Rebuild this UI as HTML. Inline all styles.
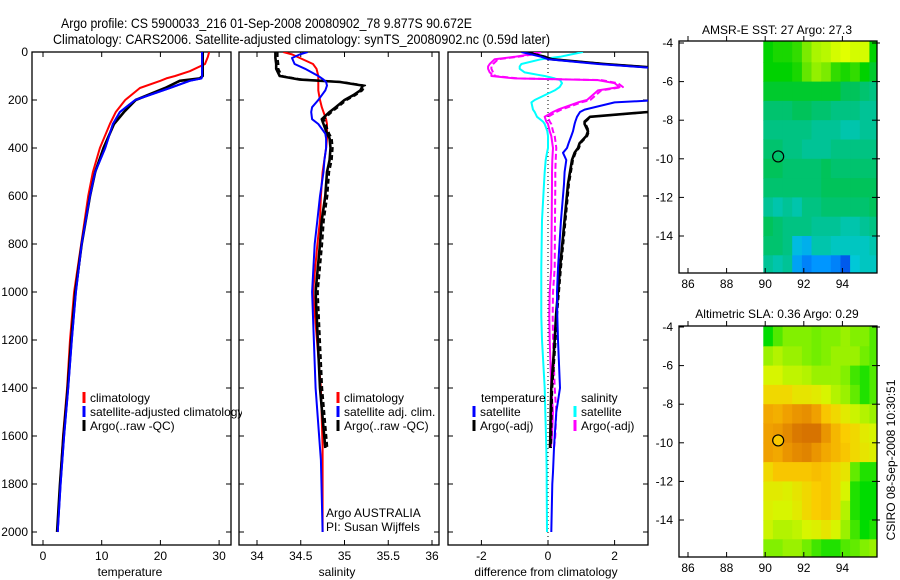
<!DOCTYPE html>
<html><head><meta charset="utf-8"><style>
html,body{margin:0;padding:0;background:#fff;}
svg{display:block;font-family:"Liberation Sans",sans-serif;}
</style></head><body>
<svg id="fig" width="900" height="580" viewBox="0 0 900 580" xmlns="http://www.w3.org/2000/svg">
<defs>
<clipPath id="c1"><rect x="32" y="52" width="199" height="493"/></clipPath>
<clipPath id="c2"><rect x="239" y="52" width="200" height="493"/></clipPath>
<clipPath id="c3"><rect x="448" y="52" width="200" height="493"/></clipPath>
<clipPath id="cm1"><rect x="679" y="41" width="198" height="232"/></clipPath>
<clipPath id="cm2"><rect x="679" y="326" width="198" height="231"/></clipPath>
<clipPath id="cleg"><rect x="32" y="380" width="210" height="60"/></clipPath>
</defs>
<text x="61" y="28" font-size="14" textLength="411" lengthAdjust="spacingAndGlyphs">Argo profile: CS 5900033_216 01-Sep-2008 20080902_78 9.877S 90.672E</text>
<text x="53" y="44" font-size="14" textLength="497" lengthAdjust="spacingAndGlyphs">Climatology: CARS2006. Satellite-adjusted climatology: synTS_20080902.nc (0.59d later)</text>
<g id="layer"></g>
<text x="130" y="576" font-size="12" text-anchor="middle">temperature</text>
<text x="337" y="576" font-size="12" text-anchor="middle">salinity</text>
<text x="546" y="576" font-size="12" text-anchor="middle">difference from climatology</text>
<text x="777" y="34" font-size="12" text-anchor="middle">AMSR-E SST: 27 Argo: 27.3</text>
<text x="777" y="318" font-size="12" text-anchor="middle">Altimetric SLA: 0.36 Argo: 0.29</text>
<text x="0" y="0" font-size="12" text-anchor="middle" transform="translate(895,460) rotate(-90)">CSIRO 08-Sep-2008 10:30:51</text>
<text x="326" y="517" font-size="12">Argo AUSTRALIA</text>
<text x="326" y="531" font-size="12">PI: Susan Wijffels</text>
</svg>
<script>
// ---------- data ----------
const depths = [0,20,50,80,100,110,120,150,200,250,300,400,500,600,800,1000,1200,1400,1600,1800,2000];
const tempClim = [28.3,28.1,27.6,25,22.5,21,20,16.5,14,12.4,11.4,9.7,8.5,7.7,6.5,5.3,4.6,4.1,3.4,2.9,2.5];
const tempSat = [27.1,27.1,27.1,27.1,27.1,27.0,25,21.6,15.7,13.1,11.9,10.6,8.9,8,6.6,5.6,4.9,4.3,3.6,3.0,2.5];
const tempArgo = [27.2,27.2,27.2,27.2,27.2,26.7,23.3,20.8,15.8,13.8,12.1,10.3,8.9,8,6.6,5.5,4.8,4.2,3.5,2.9,2.4];

const salDepths = [0,10,25,50,70,100,115,125,140,160,180,200,230,250,280,300,320,340,360,400,450,500,600,700,800,1000,1400,1650,1700,2000];
const salClim = [34.30,34.4,34.49,34.64,34.68,34.70,34.70,34.70,34.70,34.70,34.71,34.72,34.74,34.76,34.79,34.80,34.80,34.80,34.80,34.79,34.77,34.75,34.73,34.72,34.69,34.64,34.73,34.75,34.75,34.75];
const salSat = [34.58,34.49,34.40,34.43,34.55,34.70,34.76,34.79,34.80,34.78,34.74,34.70,34.63,34.62,34.63,34.70,34.74,34.78,34.79,34.79,34.77,34.76,34.72,34.69,34.66,34.63,34.67,34.72,34.73,34.75];
const salArgo = [34.21,34.21,34.21,34.22,34.22,34.26,34.49,34.95,35.21,35.18,35.10,35.0,34.90,34.83,34.74,34.76,34.78,34.80,34.83,34.84,34.83,34.80,34.78,34.74,34.72,34.67,34.72,34.78];

const diffDepths = [0,10,20,30,50,60,70,85,90,95,100,110,117,130,146,160,200,210,240,250,270,290,300,330,350,380,400,420,450,500,550,700,900,1000,1100,1200,1400,1500,1600,1650,1750,1800,2000];
const dTempSat = [-0.8,-0.5,-0.2,0,1.5,2.5,3.5,3.5,3.5,3.5,3.5,3.5,3.5,3.5,3.5,3.5,3.4,2.0,1.1,0.96,0.87,0.82,0.8,0.75,0.7,0.62,0.57,0.45,0.55,0.5,0.48,0.39,0.3,0.27,0.28,0.3,0.36,0.25,0.2,0.18,0.15,0.13,0.1];
const dTempArgo = [-0.7,-0.4,-0.1,0.1,1.7,2.7,3.6,3.6,3.6,3.6,3.6,3.6,3.6,3.6,3.6,3.6,3.6,3.6,3.5,3.0,1.26,1.1,1.1,1.2,1.15,0.95,0.9,0.8,0.72,0.66,0.6,0.5,0.36,0.3,0.24,0.2,0.1,0.08,0.07,0.06];
const dSalSat = [1.05,0.7,0.36,-0.2,-0.8,-0.85,-0.85,-0.7,-0.5,-0.3,-0.1,0.2,0.36,0.42,0.35,0.2,-0.4,-0.5,-0.45,-0.4,-0.33,-0.15,-0.1,-0.02,0,0,0,-0.03,-0.07,-0.1,-0.12,-0.18,-0.2,-0.2,-0.2,-0.18,-0.1,-0.08,-0.06,-0.05,-0.04,-0.04,-0.03];
const dSalArgo = [-0.3,-0.55,-1.0,-1.6,-1.75,-1.8,-1.8,-1.75,-1.7,-1.7,-1.7,-1.0,1.5,2.0,2.15,1.5,1.17,0.9,0.3,0.15,-0.1,-0.05,0,0.05,0.1,0.13,0.15,0.14,0.13,0.12,0.12,0.11,0.1,0.05,0.04,0.05,0.1,0.15,0.12,0.08];

const tempTicks = [0,10,20,30];
const salTicks = [34,34.5,35,35.5,36];
const salTickLabels = ["34","34.5","35","35.5","36"];
const diffTicks = [-2,0,2];
const depthTicks = [0,200,400,600,800,1000,1200,1400,1600,1800,2000];
const lonTicks = [86,88,90,92,94];
const latTicks = [-4,-6,-8,-10,-12,-14];

const gridLon0 = 89.9;
const gridLat0 = -4;
const sstGrid = [
[27.2,27.25,27.25,27.3,27.45,27.55,27.6,27.7,27.75,27.7,27.7,27.2],
[27.2,27.2,27.2,27.25,27.4,27.5,27.45,27.3,27.25,27.3,27.2,27.15],
[27.15,27.15,27.15,27.15,27.15,27.15,27.15,27.15,27.1,27.1,27.05,27.0],
[27.05,27.05,27.05,27.1,27.1,27.05,27.05,27.0,27.0,27.0,26.95,26.95],
[27.0,27.0,27.0,27.0,27.0,26.95,26.95,26.95,26.9,26.9,26.95,26.95],
[27.05,27.05,27.0,27.0,26.95,26.95,26.95,27.0,27.0,27.0,27.0,27.0],
[27.1,27.1,27.05,27.05,27.05,27.05,27.1,27.05,27.05,27.05,27.05,27.05],
[27.05,27.05,27.05,27.05,27.05,27.05,27.1,27.1,27.1,27.1,27.1,27.1],
[26.95,26.9,26.95,26.9,27.0,27.0,27.05,27.05,27.05,27.05,27.05,27.1],
[27.1,27.05,27.0,27.0,27.0,26.95,26.95,26.95,26.9,26.9,26.95,27.0],
[27.05,27.05,27.0,26.75,26.7,26.9,26.9,26.85,26.85,26.85,26.85,26.9],
[26.95,26.9,26.95,26.65,26.55,26.6,26.6,26.55,26.45,26.8,26.85,26.85]];
const slaGrid = [
[0.1,0.15,0.18,0.18,0.18,0.17,0.18,0.18,0.2,0.18,0.18,0.15],
[0.2,0.22,0.2,0.2,0.18,0.17,0.18,0.2,0.2,0.2,0.17,0.15],
[0.25,0.25,0.23,0.23,0.22,0.2,0.2,0.2,0.18,0.14,0.12,0.15],
[0.3,0.3,0.3,0.28,0.28,0.27,0.25,0.22,0.2,0.16,0.12,0.15],
[0.37,0.36,0.38,0.4,0.41,0.38,0.33,0.3,0.27,0.24,0.22,0.2],
[0.38,0.39,0.42,0.45,0.47,0.46,0.4,0.35,0.32,0.3,0.27,0.25],
[0.38,0.37,0.4,0.42,0.43,0.4,0.37,0.35,0.33,0.3,0.28,0.26],
[0.3,0.33,0.33,0.33,0.33,0.34,0.33,0.3,0.28,0.16,0.12,0.12],
[0.27,0.27,0.26,0.28,0.3,0.32,0.33,0.3,0.25,0.12,0.1,0.1],
[0.26,0.25,0.25,0.27,0.3,0.32,0.33,0.3,0.22,0.12,0.1,0.1],
[0.24,0.22,0.22,0.23,0.25,0.26,0.28,0.25,0.2,0.14,0.1,0.12],
[0.18,0.18,0.2,0.2,0.17,0.14,0.12,0.12,0.15,0.16,0.18,0.2]];
const floatLon = 90.672;
const floatLat = -9.877;

// ---------- scales ----------
const NS = "http://www.w3.org/2000/svg";
const layer = document.getElementById("layer");
function yD(d){ return 52 + d*0.24; }
function xT(t){ return 43 + t*5.87; }
function xS(s){ return 257 + (s-34)*87.5; }
function xDf(v){ return 548 + v*33.3; }
function xLon(l){ return 688 + (l-86)*19.3; }
function yLat1(l){ return 43 + (-4-l)*19.3; }
function yLat2(l){ return 327 + (-4-l)*19.3; }

function add(tag, attrs, parent){
  const el = document.createElementNS(NS, tag);
  for (const k in attrs) el.setAttribute(k, attrs[k]);
  (parent||layer).appendChild(el);
  return el;
}
function txt(x,y,s,anchor,name){
  const el = add("text",{x:x,y:y,"font-size":12,"text-anchor":anchor||"start"});
  el.textContent = s;
  
  
  return el;
}
function profile(xs, ds, xf, color, w, clip, name, dash){
  const n = Math.min(xs.length, ds.length);
  const pts = [];
  for (let i=0;i<n;i++) pts.push(xf(xs[i]).toFixed(1)+","+yD(ds[i]).toFixed(1));
  const el = add("polyline",{points:pts.join(" "),fill:"none",stroke:color,"stroke-width":w,"stroke-linejoin":"round","clip-path":"url(#"+clip+")"});
  if (dash) el.setAttribute("stroke-dasharray", dash);
  
  
  return el;
}
function lerp(stops, v){
  if (v<=stops[0][0]) return stops[0][1];
  for (let i=1;i<stops.length;i++){
    if (v<=stops[i][0]){
      const a=stops[i-1], b=stops[i], f=(v-a[0])/(b[0]-a[0]);
      return a[1].map((c,j)=>Math.round(c+(b[1][j]-c)*f));
    }
  }
  return stops[stops.length-1][1];
}
const sstStops = [[26.4,[0,70,230]],[26.6,[0,150,255]],[26.8,[0,200,215]],[26.95,[0,195,150]],[27.1,[0,195,90]],[27.2,[0,210,0]],[27.4,[100,230,0]],[27.55,[170,245,0]],[27.75,[225,255,0]]];
const slaStops = [[0.1,[0,220,0]],[0.18,[130,240,0]],[0.25,[215,245,0]],[0.32,[250,205,0]],[0.38,[240,160,0]],[0.46,[215,115,0]]];

// ---------- profile panels ----------
function panelBox(x,w,name){
  const el = add("rect",{x:x,y:52,width:w,height:493,fill:"none",stroke:"#000","stroke-width":1.3});
  
  
}
function depthTicksFor(x0,x1,labels){
  for (const d of depthTicks){
    const y = yD(d);
    const a = add("line",{x1:x0,y1:y,x2:x0+5,y2:y,stroke:"#000","stroke-width":1});
    
    
    const b = add("line",{x1:x1-5,y1:y,x2:x1,y2:y,stroke:"#000","stroke-width":1});
    
    
    if (labels) txt(28, y+4, String(d), "end", "depth-tick-label");
  }
}
function xTicks(vals, labels, xf, name){
  vals.forEach((v,i)=>{
    const x = xf(v);
    const a = add("line",{x1:x,y1:545,x2:x,y2:540,stroke:"#000","stroke-width":1});
    
    
    const b = add("line",{x1:x,y1:52,x2:x,y2:57,stroke:"#000","stroke-width":1});
    
    
    txt(x, 560, labels[i], "middle", name+"-tick-label");
  });
}
// panel 1
panelBox(32,199,"temperature-panel");
depthTicksFor(32,231,true);
xTicks(tempTicks, tempTicks.map(String), xT, "temperature-axis");
profile(tempClim, depths, xT, "#ff0000", 2, "c1", "temperature-climatology-line");
profile(tempSat, depths, xT, "#0000ff", 2, "c1", "temperature-satellite-line");
profile(tempArgo, depths, xT, "#000000", 2.6, "c1", "temperature-argo-line");
profile(tempSat, depths, xT, "#0000ff", 2, "c1", "temperature-satellite-line-top");
// panel 2
panelBox(239,200,"salinity-panel");
depthTicksFor(239,439,false);
xTicks(salTicks, salTickLabels, xS, "salinity-axis");
profile(salClim, salDepths, xS, "#ff0000", 2, "c2", "salinity-climatology-line");
profile(salArgo.map(v=>v+0.025), salDepths, xS, "#000000", 2, "c2", "salinity-argo-raw-line", "5,3");
profile(salArgo, salDepths, xS, "#000000", 2.6, "c2", "salinity-argo-line");
profile(salSat, salDepths, xS, "#0000ff", 2, "c2", "salinity-satellite-line");
// panel 3
panelBox(448,200,"difference-panel");
depthTicksFor(448,648,false);
xTicks(diffTicks, diffTicks.map(String), xDf, "difference-axis");
const zl = add("line",{x1:xDf(0),y1:52,x2:xDf(0),y2:545,stroke:"#000","stroke-width":1,"stroke-dasharray":"1,3"});


profile(dSalSat, diffDepths, xDf, "#00ffff", 2, "c3", "salinity-satellite-diff-line");
profile(dSalArgo.map(v=>v+0.1), diffDepths, xDf, "#ff00ff", 2, "c3", "salinity-argo-raw-diff-line", "6,3");
profile(dSalArgo, diffDepths, xDf, "#ff00ff", 2, "c3", "salinity-argo-diff-line");
profile(dTempArgo.map(v=>v+0.03), diffDepths, xDf, "#000000", 2, "c3", "temperature-argo-raw-diff-line", "5,3");
profile(dTempArgo, diffDepths, xDf, "#000000", 2.6, "c3", "temperature-argo-diff-line");
profile(dTempSat, diffDepths, xDf, "#0000ff", 2, "c3", "temperature-satellite-diff-line");

// ---------- legends ----------
function legItem(x,y,color,label,name,clip){
  const b = add("line",{x1:x,y1:y-10,x2:x,y2:y+1,stroke:color,"stroke-width":3});
  
  
  const t = txt(x+6,y,label,"start",name+'-label');
  if (clip) t.setAttribute("clip-path","url(#"+clip+")");
}
legItem(84,402,"#ff0000","climatology","legend-climatology");
legItem(84,416,"#0000ff","satellite-adjusted climatology","legend-satellite-adjusted","cleg");
legItem(84,430,"#000000","Argo(..raw -QC)","legend-argo");
legItem(338,402,"#ff0000","climatology","legend-sal-climatology");
legItem(338,416,"#0000ff","satellite adj. clim.","legend-sal-satellite");
legItem(338,430,"#000000","Argo(..raw -QC)","legend-sal-argo");
txt(481,402,"temperature","start","legend-temperature-heading");
txt(581,402,"salinity","start","legend-salinity-heading");
legItem(474,416,"#0000ff","satellite","legend-diff-temp-satellite");
legItem(474,430,"#000000","Argo(-adj)","legend-diff-temp-argo");
legItem(575,416,"#00ffff","satellite","legend-diff-sal-satellite");
legItem(575,430,"#ff00ff","Argo(-adj)","legend-diff-sal-argo");

// ---------- maps ----------
function map(grid, stops, yLat, top, bottom, clip, name, circleFill){
  for (let r=0;r<grid.length;r++){
    for (let c=0;c<grid[r].length;c++){
      const x0 = xLon(gridLon0 + c*0.5), x1 = xLon(gridLon0 + (c+1)*0.5);
      const y0 = yLat(gridLat0 - r), y1 = yLat(gridLat0 - r - 1);
      const col = lerp(stops, grid[r][c]);
      const cell = add("rect",{x:x0.toFixed(1),y:(r===0?top:y0).toFixed(1),width:(x1-x0+0.4).toFixed(1),height:((r===grid.length-1?bottom:y1)-(r===0?top:y0)+0.4).toFixed(1),fill:"rgb("+col.join(",")+")","clip-path":"url(#"+clip+")"});
      
      
    }
  }
  const box = add("rect",{x:679,y:top,width:198,height:bottom-top,fill:"none",stroke:"#000","stroke-width":1.3});
  
  
  for (const l of lonTicks){
    const x = xLon(l);
    const a = add("line",{x1:x,y1:bottom,x2:x,y2:bottom-5,stroke:"#000"});
    
    
    const b = add("line",{x1:x,y1:top,x2:x,y2:top-5,stroke:"#000"});
    
    
    txt(x, bottom+15, String(l), "middle", name+"-lon-label");
  }
  for (const l of latTicks){
    const y = yLat(l);
    const a = add("line",{x1:679,y1:y,x2:684,y2:y,stroke:"#000"});
    
    
    const b = add("line",{x1:872,y1:y,x2:880,y2:y,stroke:"#000"});
    
    
    txt(673, y+4, String(l), "end", name+"-lat-label");
  }
  const c = add("circle",{cx:xLon(floatLon),cy:yLat(floatLat),r:5.5,fill:circleFill,stroke:"#000","stroke-width":1.2});
  
  
}
map(sstGrid, sstStops, yLat1, 41, 273, "cm1", "sst-map", "none");
map(slaGrid, slaStops, yLat2, 326, 557, "cm2", "sla-map", "rgb(250,200,0)");
</script>
</body></html>
